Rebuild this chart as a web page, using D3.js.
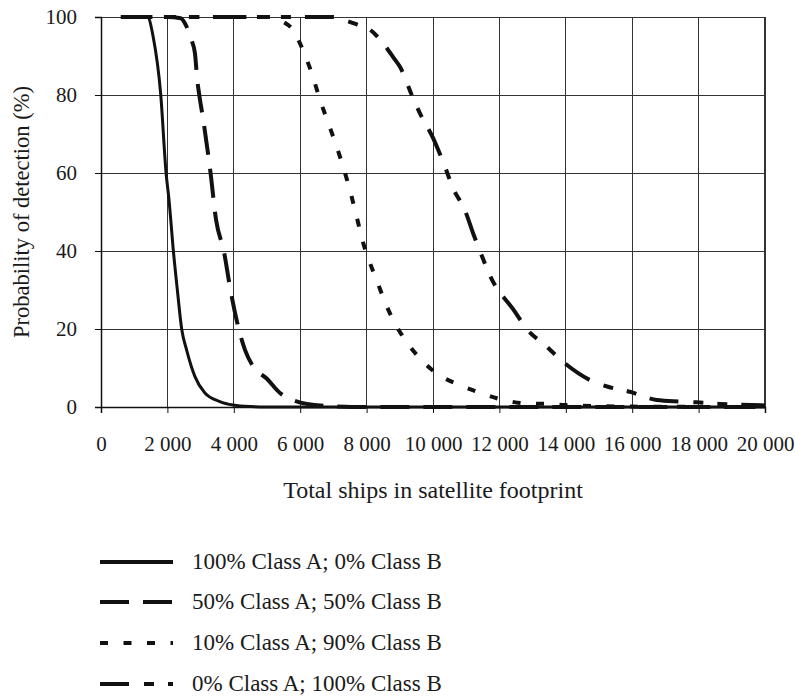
<!DOCTYPE html>
<html>
<head>
<meta charset="utf-8">
<script src="https://cdn.jsdelivr.net/npm/d3@7"></script>
<style>
  html, body { margin: 0; padding: 0; background: #fff; }
  svg { display: block; }
  text { font-family: "Liberation Serif", "Times New Roman", serif; fill: #1a1a1a; }
</style>
</head>
<body>
<svg id="chart" width="795" height="699"></svg>
<script>
// Total ships in the footprint (x) and probability of detection in % (y) for each fleet mix
const shipsA100 = [600, 1000, 1400, 1570, 1800, 1960, 2050, 2180, 2300, 2430, 2580, 2830, 3130, 3580, 3980, 4500, 5000, 20000];
const detectA100 = [100, 100, 100, 95, 80, 60, 53, 40, 30, 20, 14.6, 7.8, 3.6, 1.4, 0.5, 0.1, 0, 0];

const shipsA50 = [600, 2000, 2400, 2580, 2730, 2830, 2900, 2960, 3080, 3300, 3465, 3700, 3900, 4150, 4340, 4590, 4990, 5390, 5780, 6200, 7000, 8000, 20000];
const detectA50 = [100, 100, 99.7, 97.5, 94, 90.7, 83.8, 80, 73.6, 60, 48, 40, 30, 20, 14.6, 10.3, 7.3, 3.6, 1.8, 0.8, 0.2, 0, 0];

const shipsA10 = [600, 5090, 5480, 5780, 5990, 6350, 6600, 6850, 7100, 7350, 7550, 7700, 7900, 8050, 8300, 8550, 8850, 9060, 9560, 10110, 10810, 11470, 12120, 12820, 13420, 14000, 16000, 20000];
const detectA10 = [100, 100, 98.8, 96.7, 93.3, 85.5, 78.7, 72.7, 66.7, 60, 53.9, 48.8, 42, 38.1, 32.6, 27, 21.5, 18.5, 12.9, 8.6, 5.6, 3.5, 1.8, 0.9, 0.8, 0.5, 0.1, 0];

const shipsA0 = [600, 7000, 7400, 7800, 8040, 8500, 8860, 9000, 9360, 9600, 10000, 10360, 10610, 10960, 11210, 11460, 11710, 12470, 12820, 13370, 13970, 14730, 15270, 15930, 16740, 17440, 17940, 18640, 20000];
const detectA0 = [100, 100, 99, 97.8, 97.1, 93.2, 89, 87.3, 80, 75.4, 69, 61.6, 56, 50.5, 44.5, 39, 33.8, 24.4, 20, 15.9, 11.2, 6.9, 5.2, 3.9, 1.8, 1.4, 1.2, 0.8, 0.4];

const seriesNames = ["100% Class A; 0% Class B", "50% Class A; 50% Class B", "10% Class A; 90% Class B", "0% Class A; 100% Class B"];
const xTicks = [0, 2000, 4000, 6000, 8000, 10000, 12000, 14000, 16000, 18000, 20000];
const yTicks = [0, 20, 40, 60, 80, 100];

const series = [
  { name: seriesNames[0], xs: shipsA100, ys: detectA100, dash: null, width: 3 },
  { name: seriesNames[1], xs: shipsA50, ys: detectA50, dash: "29,14", width: 4 },
  { name: seriesNames[2], xs: shipsA10, ys: detectA10, dash: "8,15.5", width: 4 },
  { name: seriesNames[3], xs: shipsA0, ys: detectA0, dash: "29,15,10,14,10,14", width: 4 }
];

const svg = d3.select("#chart");
const plotLeft = 101, plotTop = 17, plotW = 664, plotH = 390;

const x = d3.scaleLinear().domain([0, 20000]).range([plotLeft, plotLeft + plotW]);
const y = d3.scaleLinear().domain([0, 100]).range([plotTop + plotH, plotTop]);

// thousands separated by a space: 12 000
const fmt = d => d3.format(",")(d).replace(/,/g, " ");

// grid
const grid = svg.append("g").attr("shape-rendering", "crispEdges");
grid.selectAll("line.v").data(xTicks.slice(1, -1)).join("line")
  .attr("x1", d => x(d)).attr("x2", d => x(d))
  .attr("y1", plotTop).attr("y2", plotTop + plotH)
  .attr("stroke", "#333").attr("stroke-width", 1);
grid.selectAll("line.h").data(yTicks.slice(1)).join("line")
  .attr("x1", plotLeft).attr("x2", plotLeft + plotW)
  .attr("y1", d => y(d)).attr("y2", d => y(d))
  .attr("stroke", "#333").attr("stroke-width", 1);
// right border
grid.append("line")
  .attr("x1", plotLeft + plotW).attr("x2", plotLeft + plotW)
  .attr("y1", plotTop).attr("y2", plotTop + plotH)
  .attr("stroke", "#333").attr("stroke-width", 2);

// axes
const xAxis = svg.append("g")
  .attr("transform", `translate(0,${plotTop + plotH})`)
  .call(d3.axisBottom(x).tickValues(xTicks).tickFormat(fmt).tickSize(6).tickPadding(23));
const yAxis = svg.append("g")
  .attr("transform", `translate(${plotLeft},0)`)
  .call(d3.axisLeft(y).tickValues(yTicks).tickSize(6).tickPadding(18));
[xAxis, yAxis].forEach(a => {
  a.select(".domain").attr("stroke", "#111").attr("stroke-width", 1.5);
  a.selectAll(".tick line").attr("stroke", "#111");
  a.selectAll("text").attr("font-size", 21).attr("font-family", "Liberation Serif").attr("fill", "#1a1a1a");
});

// curves
const line = d3.line().x(d => x(d[0])).y(d => y(d[1])).curve(d3.curveMonotoneX);
svg.append("g").selectAll("path").data(series).join("path")
  .attr("d", s => line(s.xs.map((v, i) => [v, s.ys[i]])))
  .attr("fill", "none")
  .attr("stroke", "#111")
  .attr("stroke-width", s => s.width)
  .attr("stroke-dasharray", s => s.dash);

// axis titles
svg.append("text")
  .attr("transform", `translate(29,${plotTop + plotH / 2}) rotate(-90)`)
  .attr("text-anchor", "middle")
  .attr("font-size", 22.5)
  .text("Probability of detection (%)");
svg.append("text")
  .attr("x", plotLeft + plotW / 2).attr("y", 498)
  .attr("text-anchor", "middle")
  .attr("font-size", 24)
  .text("Total ships in satellite footprint");

// legend
const rowsY = [562, 602, 643, 684];
const legend = svg.append("g");
series.forEach((s, i) => {
  legend.append("line")
    .attr("x1", 100).attr("x2", 173)
    .attr("y1", rowsY[i]).attr("y2", rowsY[i])
    .attr("stroke", "#111").attr("stroke-width", 4)
    .attr("stroke-dasharray", s.dash);
  legend.append("text")
    .attr("x", 192).attr("y", rowsY[i] + 7)
    .attr("font-size", 23)
    .text(s.name);
});
</script>
</body>
</html>
